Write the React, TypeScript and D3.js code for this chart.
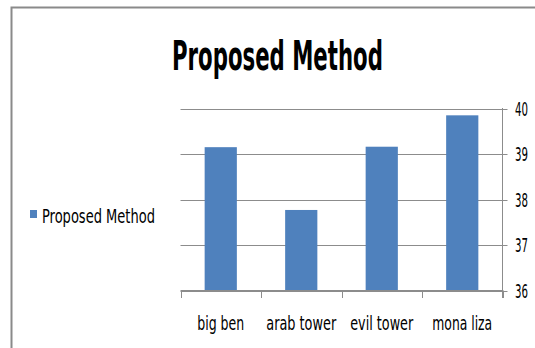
import React, { useLayoutEffect, useRef, useState } from "react";
import * as d3 from "d3";

const categories = ["big ben", "arab tower", "evil tower", "mona liza"];
const values = [39.15, 37.77, 39.16, 39.85];
const yTicks = [36, 37, 38, 39, 40];
const seriesName = "Proposed Method";
const title = "Proposed Method";

const W = 535;
const H = 348;
const FONT = "'DejaVu Sans Condensed', 'Liberation Sans Narrow', sans-serif";
const catWidths = [47, 70, 63, 60];

function FitText(props: { x: number; y: number; width: number; size: number; bold?: boolean; children: string }) {
  const ref = useRef<SVGTextElement>(null);
  const [s, setS] = useState(1);
  useLayoutEffect(() => {
    if (ref.current) {
      const w = ref.current.getComputedTextLength();
      if (w > 0) setS(props.width / w);
    }
  }, [props.width, props.children, props.size]);
  return (
    <g transform={`translate(${props.x},${props.y}) scale(${s},1)`}>
      <text ref={ref} x={0} y={0} fontFamily={FONT} fontSize={props.size} fontWeight={props.bold ? "bold" : "normal"} fill="#000">
        {props.children}
      </text>
    </g>
  );
}

export default function App() {
  const plotLeft = 180.5;
  const plotRight = 502.5;
  const x = d3.scaleBand<string>().domain(categories).range([plotLeft, plotRight]).paddingInner(0.6).paddingOuter(0.3);
  const xOuter = d3.scaleBand<string>().domain(categories).range([plotLeft, plotRight]);
  const y = d3.scaleLinear().domain([36, 40]).range([290.5, 108.5]);
  const grid = "#8c8c8c";

  return (
    <svg width={W} height={H} style={{ position: "absolute", left: 0, top: 0 }}>
      <rect x={0} y={0} width={W} height={H} fill="#fff" />
      <path d={`M11.5,${H} V7.5 H${W}`} fill="none" stroke="#8a8a8a" strokeWidth={2} />
      <FitText x={172} y={70} width={211} size={41} bold>
        {title}
      </FitText>
      {yTicks.map((t) => (
        <line key={t} x1={plotLeft} x2={plotRight + 5} y1={Math.round(y(t)) + 0.5} y2={Math.round(y(t)) + 0.5} stroke={grid} strokeWidth={1} />
      ))}
      {categories.map((c, i) => (
        <rect key={c} x={x(c)} width={x.bandwidth()} y={y(values[i])} height={y(36) - y(values[i])} fill="#4F81BD" />
      ))}
      <line x1={plotLeft} x2={plotRight} y1={290.5} y2={290.5} stroke={grid} />
      {[...categories.map((c) => xOuter(c) as number), plotRight].map((v, i) => (
        <line key={i} x1={Math.round(v) + 0.5} x2={Math.round(v) + 0.5} y1={290.5} y2={298} stroke={grid} />
      ))}
      <line x1={plotRight} x2={plotRight} y1={108} y2={298} stroke={grid} />
      {yTicks.map((t) => (
        <FitText key={t} x={515} y={y(t) + 7} width={13} size={19}>
          {String(t)}
        </FitText>
      ))}
      {categories.map((c, i) => (
        <FitText key={c} x={(xOuter(c) as number) + xOuter.bandwidth() / 2 - catWidths[i] / 2} y={330} width={catWidths[i]} size={20}>
          {c}
        </FitText>
      ))}
      <rect x={30} y={210} width={7} height={8} fill="#4F81BD" />
      <FitText x={42} y={223} width={113} size={20}>
        {seriesName}
      </FitText>
    </svg>
  );
}
